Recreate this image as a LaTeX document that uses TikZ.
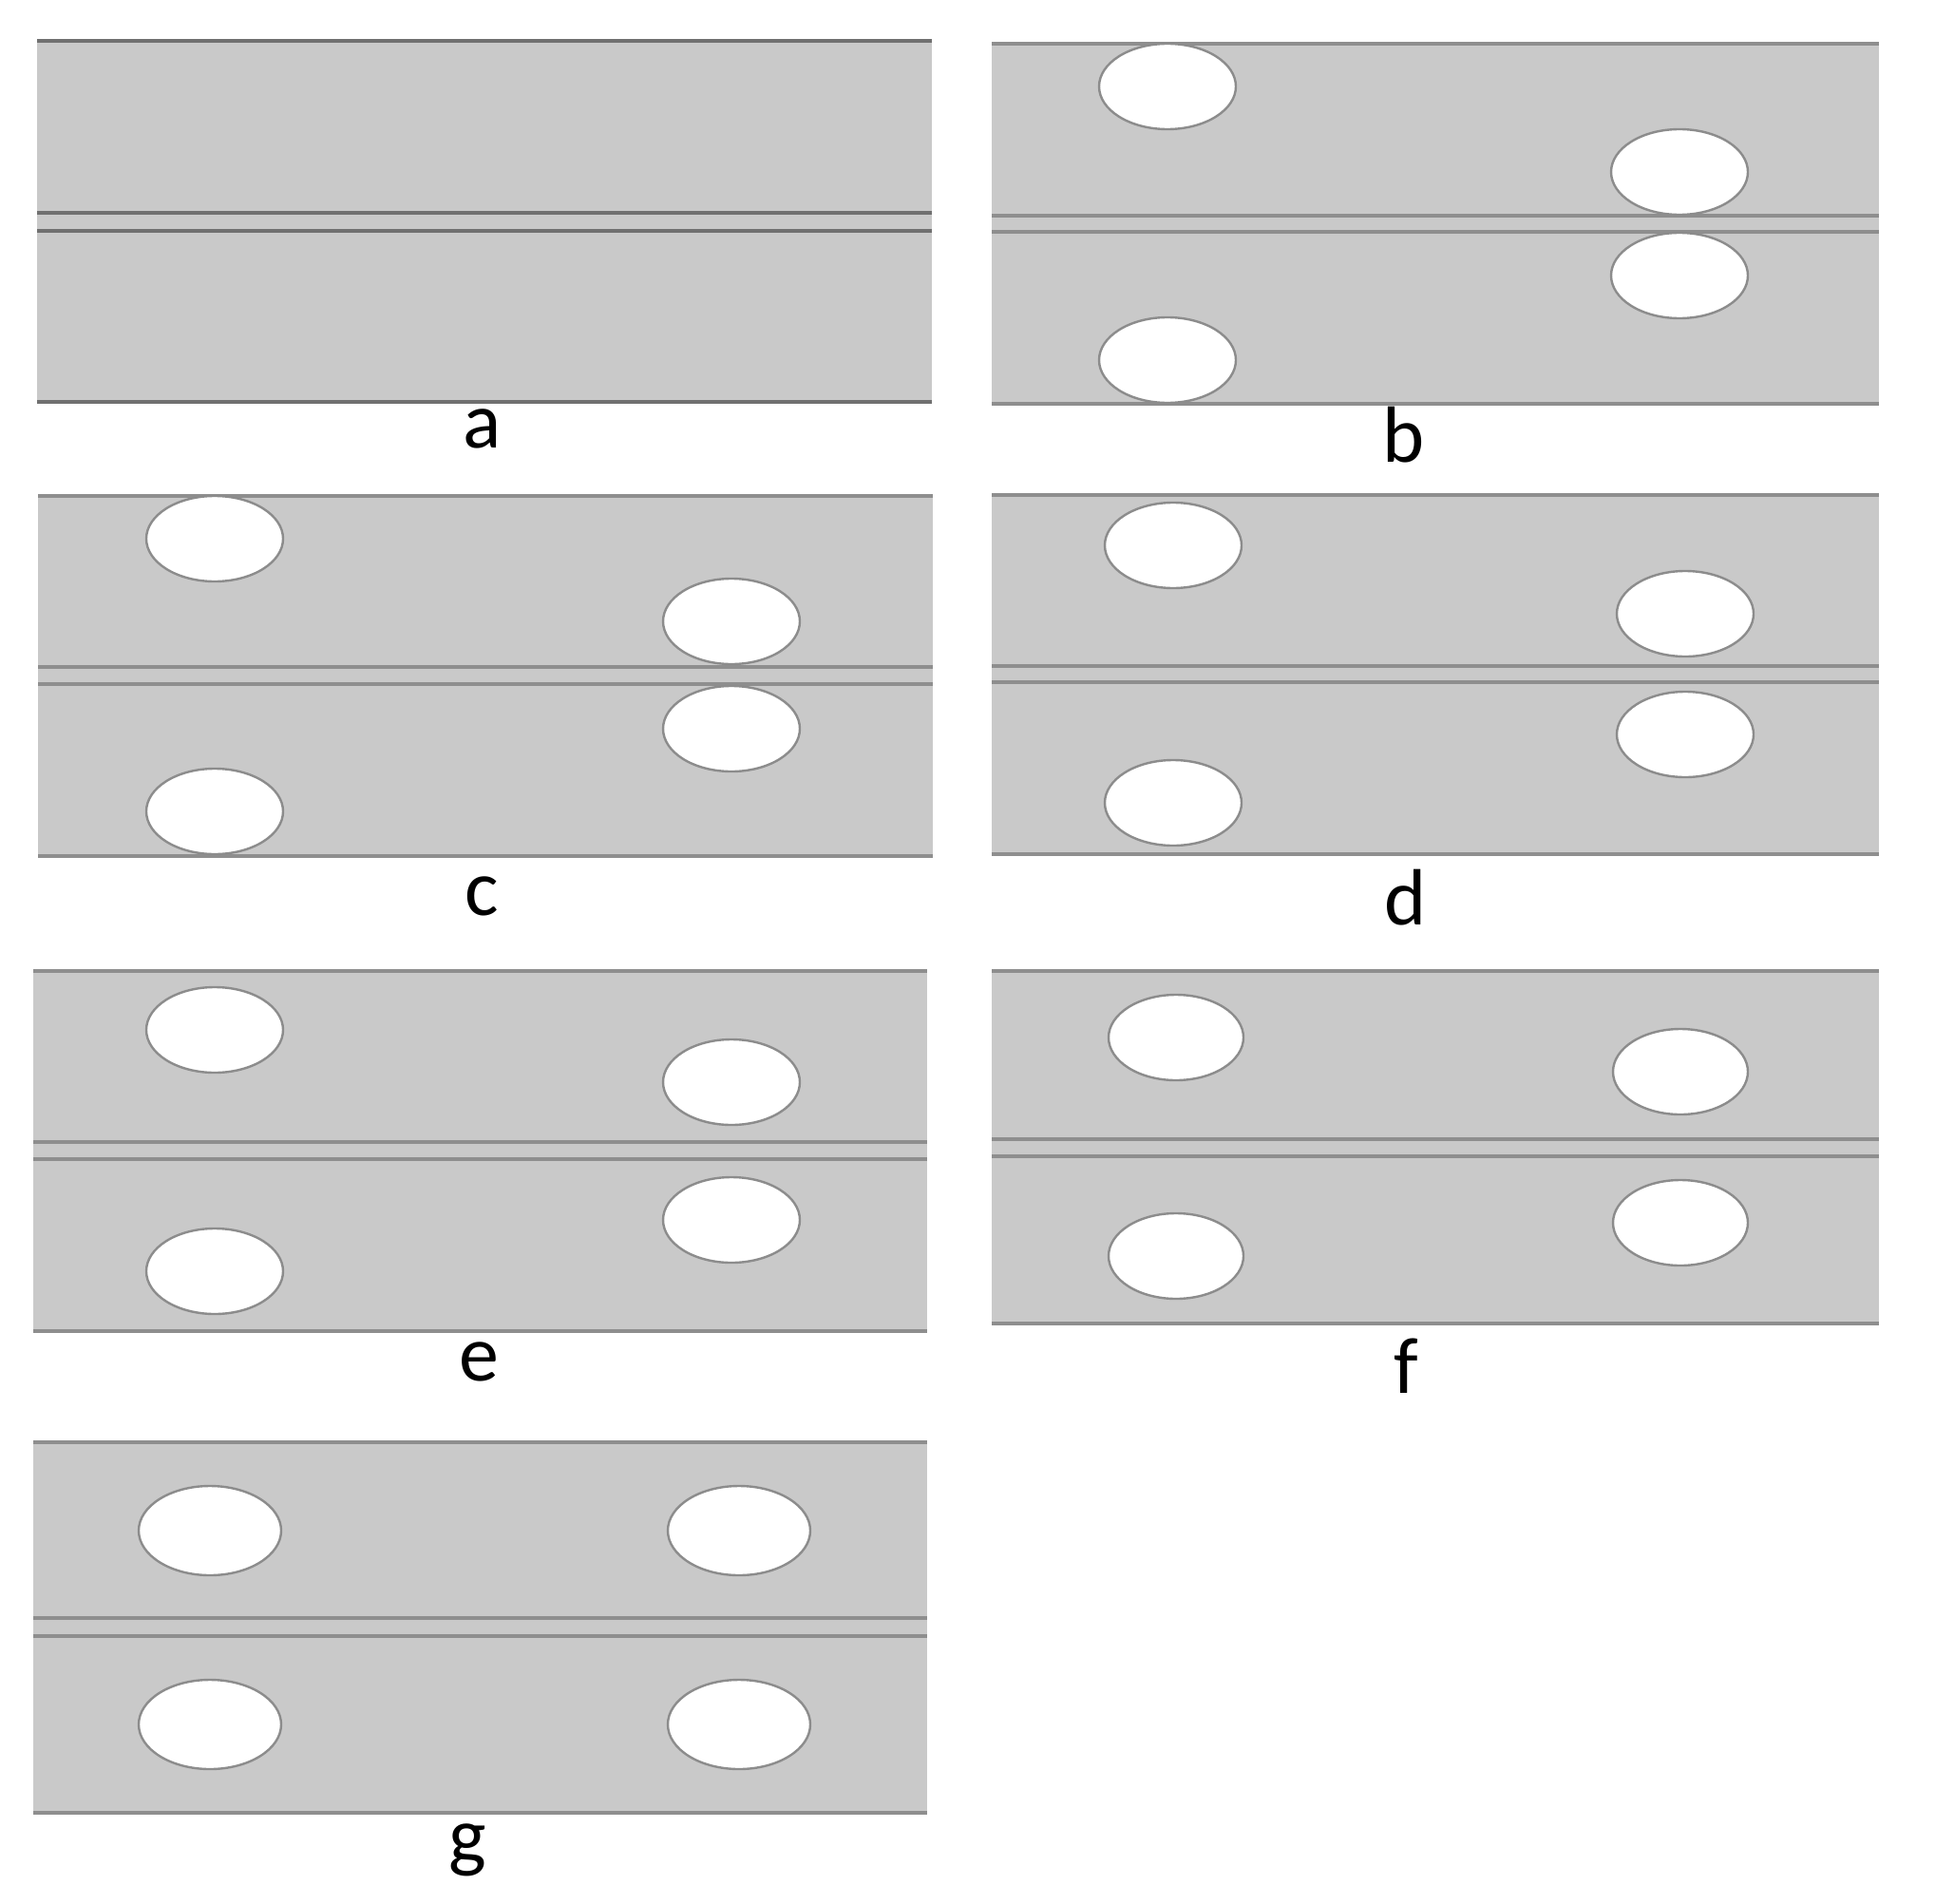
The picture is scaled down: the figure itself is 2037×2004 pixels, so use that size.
\documentclass[tikz,border=0pt]{standalone}
\usepackage{fontspec}
\setmainfont{Carlito}
\definecolor{panelfill}{RGB}{201,201,201}
\definecolor{edgedark}{RGB}{112,112,112}
\definecolor{edgegray}{RGB}{142,142,142}
\definecolor{holeedge}{RGB}{140,140,140}
\tikzset{
  panelbody/.style={fill=panelfill, draw=none},
  edgeline/.style={draw=edgegray, line width=3.5},
  edgelinedark/.style={draw=edgedark, line width=4.5},
  hole/.style={fill=white, draw=holeedge, line width=2.4},
  panellabel/.style={font=\fontsize{84}{94}\selectfont, anchor=base, inner sep=0pt}
}
% #1 x0, #2 x1, #3 top, #4 mid1, #5 mid2, #6 bottom, #7 line style
\newcommand\drawbeam[7]{%
  \fill[panelbody] (#1,#3) rectangle (#2,#6);
  \draw[#7] (#1,#3) -- (#2,#3);
  \draw[#7] (#1,#4) -- (#2,#4);
  \draw[#7] (#1,#5) -- (#2,#5);
  \draw[#7] (#1,#6) -- (#2,#6);
}
\newcommand\drawhole[4]{%
  \draw[hole] (#1,#2) ellipse [x radius=#3, y radius=#4];
}
\begin{document}
\begin{tikzpicture}[x=1pt, y=-1pt]
\useasboundingbox (0,0) rectangle (2037,2004);
\fill[white] (0,0) rectangle (2037,2004);

% panel a
\drawbeam{39}{981}{43}{224}{243}{423}{edgelinedark}
\node[panellabel] (la) at (508,471) {a};

% panel b
\drawbeam{1044}{1978}{46}{227}{244}{425}{edgeline}
\drawhole{1229}{91}{72}{45}
\drawhole{1768}{181}{72}{45}
\drawhole{1768}{290}{72}{45}
\drawhole{1229}{379}{72}{45}
\node[panellabel] (lb) at (1478,486) {b};

% panel c
\drawbeam{40}{982}{522}{702}{720}{901}{edgeline}
\drawhole{226}{567}{72}{45}
\drawhole{770}{654}{72}{45}
\drawhole{770}{767}{72}{45}
\drawhole{226}{854}{72}{45}
\node[panellabel] (lc) at (507,963) {c};

% panel d
\drawbeam{1044}{1978}{521}{701}{718}{899}{edgeline}
\drawhole{1235}{574}{72}{45}
\drawhole{1774}{646}{72}{45}
\drawhole{1774}{773}{72}{45}
\drawhole{1235}{845}{72}{45}
\node[panellabel] (ld) at (1480,973) {d};

% panel e
\drawbeam{35}{976}{1022}{1202}{1220}{1401}{edgeline}
\drawhole{226}{1084}{72}{45}
\drawhole{770}{1139}{72}{45}
\drawhole{770}{1284}{72}{45}
\drawhole{226}{1338}{72}{45}
\node[panellabel] (le) at (504,1453) {e};

% panel f
\drawbeam{1044}{1978}{1022}{1199}{1217}{1393}{edgeline}
\drawhole{1238}{1092}{71}{45}
\drawhole{1769}{1128}{71}{45}
\drawhole{1769}{1287}{71}{45}
\drawhole{1238}{1322}{71}{45}
\node[panellabel] (lf) at (1480,1466) {f};

% panel g
\drawbeam{35}{976}{1518}{1703}{1722}{1908}{edgeline}
\drawhole{221}{1611}{75}{47}
\drawhole{778}{1611}{75}{47}
\drawhole{221}{1815}{75}{47}
\drawhole{778}{1815}{75}{47}
\node[panellabel] (lg) at (492,1960) {g};
\end{tikzpicture}
\end{document}
